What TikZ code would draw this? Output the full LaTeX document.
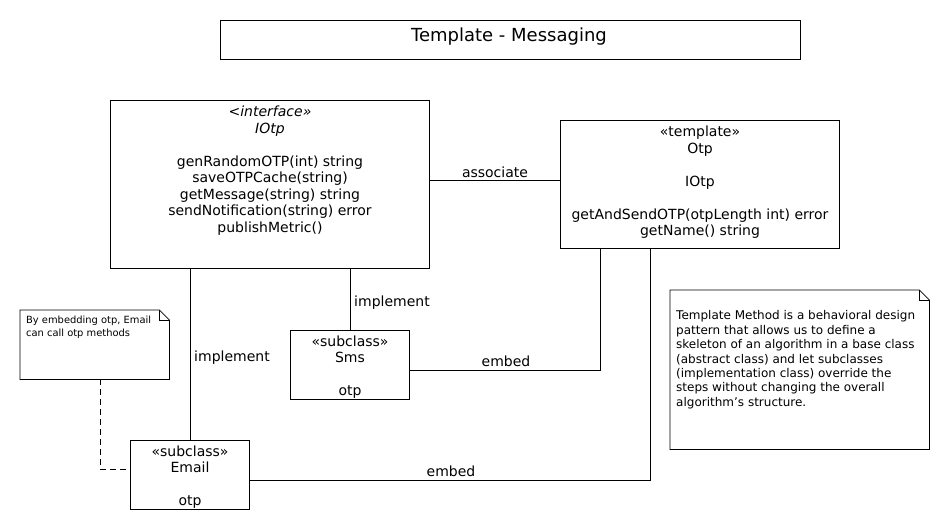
\documentclass[tikz,border=0pt]{standalone}
\usepackage{fontspec}
\setmainfont{DejaVu Sans}
\begin{document}
\begin{tikzpicture}[x=1pt,y=-1pt,
  box/.style={draw,line width=0.8pt,inner sep=0pt,anchor=north west},
  txt/.style={inner sep=0pt,anchor=north,align=center,font=\fontsize{14}{16.5}\selectfont},
  lbl/.style={inner sep=0pt,font=\fontsize{14}{16}\selectfont},
  conn/.style={line width=0.8pt},
  notetxt/.style={inner sep=0pt,anchor=north west,align=left}]
\useasboundingbox[fill=white] (0,0) rectangle (950,530);
% title
\node[box,minimum width=580pt,minimum height=39pt] (title) at (220,20) {};
\node[inner sep=0pt,font=\fontsize{18}{20}\selectfont] (titletxt) at (509,37) {Template - Messaging};
% IOtp
\node[box,minimum width=319pt,minimum height=168pt] (iotp) at (110,100) {};
\node[txt] (iotptxt) at (270,106) {\itshape <interface»\\\itshape IOtp\\[16.5pt]genRandomOTP(int) string\\saveOTPCache(string)\\getMessage(string) string\\sendNotification(string) error\\publishMetric()};
% Otp
\node[box,minimum width=279pt,minimum height=128pt] (otp) at (560,120) {};
\node[txt] (otptxt) at (700,126) {«template»\\Otp\\[16.5pt]IOtp\\[16.5pt]getAndSendOTP(otpLength int) error\\getName() string};
% Sms
\node[box,minimum width=119pt,minimum height=69pt] (sms) at (290,330) {};
\node[txt] (smstxt) at (350,335.5) {«subclass»\\Sms\\[16.5pt]otp};
% Email
\node[box,minimum width=119pt,minimum height=69pt] (email) at (130,440) {};
\node[txt] (emailtxt) at (190,445.5) {«subclass»\\Email\\[16.5pt]otp};
% note 1
\node[inner sep=0pt,minimum width=149pt,minimum height=69pt,anchor=north west] (note1) at (20,310) {};
\draw[conn] (note1.north west) -- ([xshift=-10pt]note1.north east) -- ([yshift=-10pt]note1.north east) -- (note1.south east) -- (note1.south west) -- cycle;
\draw[conn] ([xshift=-10pt]note1.north east) -- ([xshift=-10pt,yshift=-10pt]note1.north east) -- ([yshift=-10pt]note1.north east);
\node[notetxt,font=\fontsize{9.9}{12.7}\selectfont] (note1txt) at (26,316) {By embedding otp, Email\\can call otp methods};
% note 2
\node[inner sep=0pt,minimum width=259pt,minimum height=159pt,anchor=north west] (note2) at (670,290) {};
\draw[conn] (note2.north west) -- ([xshift=-10pt]note2.north east) -- ([yshift=-10pt]note2.north east) -- (note2.south east) -- (note2.south west) -- cycle;
\draw[conn] ([xshift=-10pt]note2.north east) -- ([xshift=-10pt,yshift=-10pt]note2.north east) -- ([yshift=-10pt]note2.north east);
\node[notetxt,font=\fontsize{12}{14.4}\selectfont] (note2txt) at (676,310.5) {Template Method is a behavioral design\\pattern that allows us to define a\\skeleton of an algorithm in a base class\\(abstract class) and let subclasses\\(implementation class) override the\\steps without changing the overall\\algorithm’s structure.};
% connectors
\draw[conn] (iotp.east |- 0,180) -- (otp.west |- 0,180);
\node[lbl] (assoc) at (495,172) {associate};
\draw[conn] (iotp.south -| 350,0) -- (sms.north -| 350,0);
\node[lbl] (impl1) at (392,303) {implement};
\draw[conn] (iotp.south -| 190,0) -- (email.north -| 190,0);
\node[lbl] (impl2) at (232,358) {implement};
\draw[conn] (sms.east |- 0,370) -| (otp.south -| 600,0);
\node[lbl] (embed1) at (506,361) {embed};
\draw[conn] (email.east |- 0,480) -| (otp.south -| 650,0);
\node[lbl] (embed2) at (451,471) {embed};
\draw[conn,dash pattern=on 6pt off 4pt] (note1.south -| 100,0) |- (email.west |- 0,469);
\end{tikzpicture}
\end{document}
